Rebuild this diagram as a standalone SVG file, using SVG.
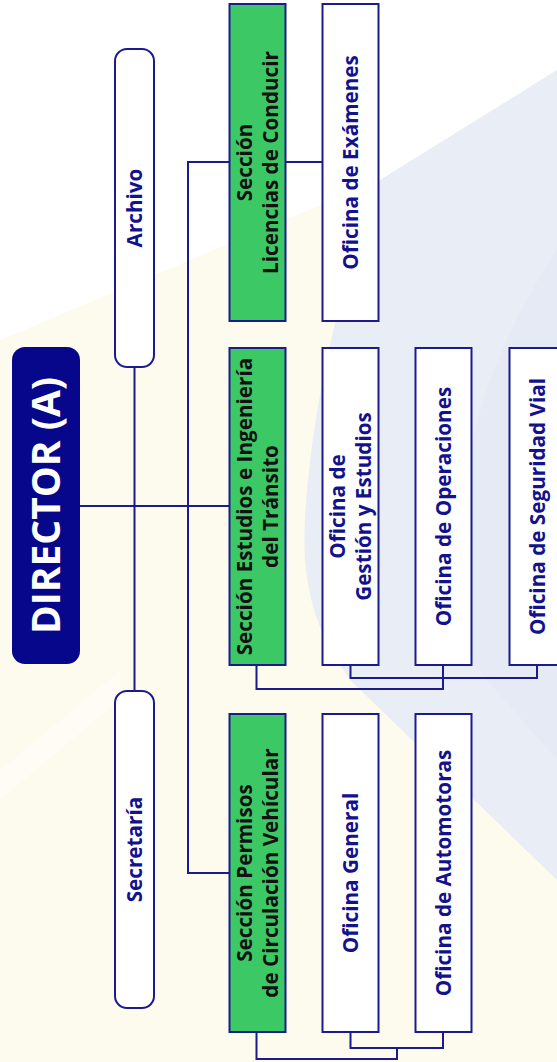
<svg xmlns="http://www.w3.org/2000/svg" width="557" height="1062" viewBox="0 0 557 1062">
<style>
.box{fill:#ffffff;stroke:#1b1b8e;stroke-width:2}
.green{fill:#3dc866;stroke:#1b1b8e;stroke-width:2}
.dir{fill:#07078c}
.t{font-family:"Open Sans","Liberation Sans",sans-serif;font-weight:700;font-size:20.7px;text-anchor:middle;fill:#12128e}
.tg{fill:#111111}
.td{font-size:39px;fill:#ffffff}
.ln{fill:none;stroke:#1b1b8e;stroke-width:2}
</style>
<g id="background">
<rect x="0" y="0" width="557" height="1062" fill="#fdfaee"/>
<polygon points="0,0 557,0 557,70 380,180 0,340" fill="#ffffff"/>
<path d="M557,70 L380,180 C330,300 300,480 305,560 C310,620 330,650 350,680 L557,880 Z" fill="#e9edf6"/>
<path d="M557,250 C470,380 440,520 470,660 L557,760 Z" fill="#e5eaf4"/>
<polygon points="0,800 0,770 120,670 120,700" fill="#fefcf4"/>
</g>
<g id="connectors">
<line class="ln" x1="80" y1="506" x2="229" y2="506"/>
<line class="ln" x1="134.5" y1="367" x2="134.5" y2="691"/>
<polyline class="ln" points="229,162 188,162 188,873 229,873"/>
<line class="ln" x1="285" y1="162" x2="323" y2="162"/>
<polyline class="ln" points="256.5,665 256.5,689 443,689"/>
<line class="ln" x1="443" y1="665" x2="443" y2="690"/>
<polyline class="ln" points="350.5,665 350.5,678 537,678 537,665"/>
<polyline class="ln" points="256.5,1032 256.5,1059 397,1059 397,1048"/>
<polyline class="ln" points="350.5,1032 350.5,1048 443,1048 443,1032"/>
</g>
<g id="director">
<rect class="dir" x="12" y="347" width="68" height="317" rx="13"/>
<text class="t td" transform="translate(46,505.5) rotate(-90)" dy="0.36em">DIRECTOR (A)</text>
</g>
<g id="archivo">
<rect class="box" x="115" y="49" width="39" height="318" rx="12"/>
<text class="t" transform="translate(134.5,208) rotate(-90)" dy="0.36em">Archivo</text>
</g>
<g id="secretaria">
<rect class="box" x="115" y="691" width="39" height="317" rx="12"/>
<text class="t" transform="translate(134.5,849.5) rotate(-90)" dy="0.36em">Secretaría</text>
</g>
<g id="licencias">
<rect class="green" x="229.5" y="4" width="56" height="317"/>
<text class="t tg" transform="translate(257.5,162.5) rotate(-90)"><tspan x="0" y="-5.5">Sección</tspan><tspan x="0" y="20">Licencias de Conducir</tspan></text>
</g>
<g id="examenes">
<rect class="box" x="322.5" y="4" width="56" height="317"/>
<text class="t" transform="translate(350.5,162.5) rotate(-90)" dy="0.36em">Oficina de Exámenes</text>
</g>
<g id="estudios">
<rect class="green" x="229.5" y="348" width="56" height="317"/>
<text class="t tg" transform="translate(257.5,506.5) rotate(-90)"><tspan x="0" y="-5.5">Sección Estudios e Ingeniería</tspan><tspan x="0" y="20">del Tránsito</tspan></text>
</g>
<g id="gestion">
<rect class="box" x="322.5" y="348" width="56" height="317"/>
<text class="t" transform="translate(350.5,506.5) rotate(-90)"><tspan x="0" y="-5.5">Oficina de</tspan><tspan x="0" y="20">Gestión y Estudios</tspan></text>
</g>
<g id="operaciones">
<rect class="box" x="415.5" y="348" width="56" height="317"/>
<text class="t" transform="translate(443.5,506.5) rotate(-90)" dy="0.36em">Oficina de Operaciones</text>
</g>
<g id="seguridad">
<rect class="box" x="509.5" y="348" width="56" height="317"/>
<text class="t" transform="translate(537.5,506.5) rotate(-90)" dy="0.36em">Oficina de Seguridad Vial</text>
</g>
<g id="permisos">
<rect class="green" x="229.5" y="714" width="56" height="318"/>
<text class="t tg" transform="translate(257.5,873) rotate(-90)"><tspan x="0" y="-5.5">Sección Permisos</tspan><tspan x="0" y="20">de Circulación Vehícular</tspan></text>
</g>
<g id="general">
<rect class="box" x="322.5" y="714" width="56" height="318"/>
<text class="t" transform="translate(350.5,873) rotate(-90)" dy="0.36em">Oficina General</text>
</g>
<g id="automotoras">
<rect class="box" x="415.5" y="714" width="56" height="318"/>
<text class="t" transform="translate(443.5,873) rotate(-90)" dy="0.36em">Oficina de Automotoras</text>
</g>
</svg>
